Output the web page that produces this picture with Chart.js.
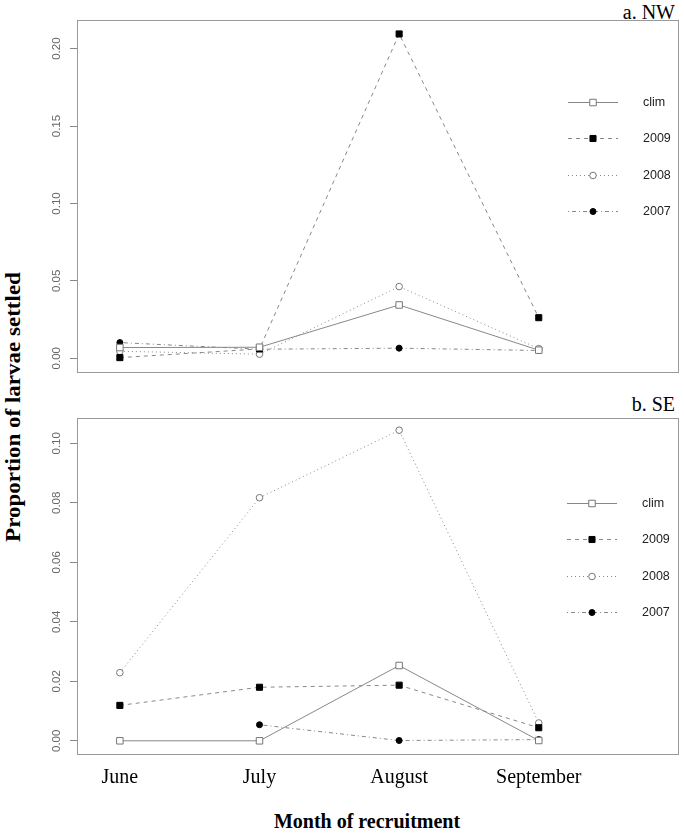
<!DOCTYPE html>
<html>
<head>
<meta charset="utf-8">
<script src="https://cdn.jsdelivr.net/npm/chart.js@4.4.1/dist/chart.umd.min.js"></script>
<style>
  body { margin: 0; background: #fff; width: 684px; height: 834px; position: relative; overflow: hidden; }
  canvas { position: absolute; left: 0; }
  #nw { top: 0; }
  #se { top: 390px; }
  .panel { position: absolute; right: 9px; font: 20px "Liberation Serif", serif; line-height: 20px; color: #000; }
  #ytitle { position: absolute; left: 13px; top: 407px; transform: translate(-50%, -50%) rotate(-90deg) scale(1.15, 1);
            font: bold 20px "Liberation Serif", serif; line-height: 20px; white-space: nowrap; color: #000; }
  #xtitle { position: absolute; left: 367px; top: 821px; transform: translate(-50%, -50%);
            font: bold 20px "Liberation Serif", serif; line-height: 20px; white-space: nowrap; color: #000; }
</style>
</head>
<body>
<div class="panel" style="top:2px">a. NW</div>
<div class="panel" style="top:394px">b. SE</div>
<div id="ytitle">Proportion of larvae settled</div>
<div id="xtitle">Month of recruitment</div>
<canvas id="nw" width="684" height="390"></canvas>
<canvas id="se" width="684" height="444"></canvas>
<script>
const months = ['June', 'July', 'August', 'September'];
const seriesNames = ['clim', '2009', '2008', '2007'];

// a. NW
const nwClim = [0.0069, 0.0071, 0.0344, 0.0052];
const nw2009 = [0.0004, 0.0060, 0.2095, 0.0262];
const nw2008 = [0.0045, 0.0026, 0.0463, 0.0062];
const nw2007 = [0.0101, 0.0058, 0.0065, 0.0050];
const nwTicks = [0, 0.05, 0.10, 0.15, 0.20];

// b. SE
const seClim = [0.0000, 0.0000, 0.0253, 0.0001];
const se2009 = [0.0119, 0.0180, 0.0187, 0.0044];
const se2008 = [0.0229, 0.0817, 0.1044, 0.0060];
const se2007 = [null, 0.0054, 0.0001, 0.0004];
const seTicks = [0, 0.02, 0.04, 0.06, 0.08, 0.10];

const styles = [
  { dash: [], shape: 'rect', r: 4.6, fill: '#fff', edge: '#777' },
  { dash: [4, 4], shape: 'rect', r: 4.3, fill: '#000', edge: '#000' },
  { dash: [1, 3], shape: 'circle', r: 3.3, fill: '#fff', edge: '#777' },
  { dash: [1, 3, 4, 3], shape: 'circle', r: 3, fill: '#000', edge: '#000' }
];

function makeDatasets(series) {
  return series.map((vals, k) => ({
    label: seriesNames[k],
    data: months.map((m, i) => ({ x: i + 1, y: vals[i] })),
    borderColor: '#888',
    borderWidth: 1,
    borderDash: styles[k].dash,
    pointStyle: styles[k].shape,
    pointRadius: styles[k].r,
    pointHoverRadius: styles[k].r,
    pointBackgroundColor: styles[k].fill,
    pointBorderColor: styles[k].edge,
    pointBorderWidth: 1,
    tension: 0,
    fill: false,
    spanGaps: false
  }));
}

// box round the plot area and the legend inside it
const boxLegend = {
  id: 'boxLegend',
  afterDraw(chart, args, opts) {
    const ctx = chart.ctx;
    const a = chart.chartArea;
    ctx.save();
    ctx.strokeStyle = '#999';
    ctx.lineWidth = 1;
    ctx.strokeRect(Math.round(a.left) + 0.5, Math.round(a.top) + 0.5,
                   Math.round(a.right - a.left), Math.round(a.bottom - a.top));
    chart.data.datasets.forEach((ds, k) => {
      const y = Math.round(opts.y + k * opts.gap) + 0.5;
      ctx.strokeStyle = ds.borderColor;
      ctx.setLineDash(ds.borderDash);
      ctx.beginPath();
      ctx.moveTo(opts.x, y);
      ctx.lineTo(opts.x + 50, y);
      ctx.stroke();
      ctx.setLineDash([]);
      ctx.fillStyle = ds.pointBackgroundColor;
      ctx.strokeStyle = ds.pointBorderColor;
      ctx.beginPath();
      const cx = opts.x + 25;
      if (ds.pointStyle === 'rect') {
        const s = ds.pointRadius * Math.SQRT1_2;
        ctx.rect(cx - s, y - s, 2 * s, 2 * s);
      } else {
        ctx.arc(cx, y, ds.pointRadius, 0, Math.PI * 2);
      }
      ctx.fill();
      ctx.stroke();
      ctx.fillStyle = '#222';
      ctx.font = '12.5px "Liberation Sans", Arial, sans-serif';
      ctx.textBaseline = 'middle';
      ctx.fillText(ds.label, opts.x + 75, y);
    });
    ctx.restore();
  }
};

function yAxis(min, max, ticks) {
  return {
    type: 'linear',
    min: min,
    max: max,
    afterBuildTicks: s => { s.ticks = ticks.map(v => ({ value: v })); },
    afterFit: s => { s.width = 77; },
    ticks: {
      autoSkip: false,
      minRotation: 90,
      maxRotation: 90,
      crossAlign: 'center',
      padding: 2,
      color: '#666',
      font: { family: '"Liberation Sans", Arial, sans-serif', size: 11.5 },
      callback: v => v.toFixed(2)
    },
    grid: { drawOnChartArea: false, drawTicks: true, tickLength: 7, color: '#888' },
    border: { display: false }
  };
}

const common = {
  responsive: false,
  animation: false,
  events: [],
  plugins: { legend: { display: false }, tooltip: { enabled: false } }
};

new Chart(document.getElementById('nw'), {
  type: 'line',
  data: { datasets: makeDatasets([nwClim, nw2009, nw2008, nw2007]) },
  options: {
    ...common,
    layout: { padding: { top: 20, bottom: 18.3, left: 0, right: 3 } },
    plugins: { ...common.plugins, boxLegend: { x: 568, y: 101.7, gap: 36.4 } },
    scales: {
      x: { type: 'linear', min: 0.693, max: 5.0, display: false },
      y: yAxis(-0.0087, 0.2185, nwTicks)
    }
  },
  plugins: [boxLegend]
});

new Chart(document.getElementById('se'), {
  type: 'line',
  data: { datasets: makeDatasets([seClim, se2009, se2008, se2007]) },
  options: {
    ...common,
    layout: { padding: { top: 27.7, bottom: 32.7, left: 0, right: 3 } },
    plugins: { ...common.plugins, boxLegend: { x: 567, y: 112.7, gap: 36.5 } },
    scales: {
      x: {
        type: 'linear',
        min: 0.693,
        max: 5.0,
        afterBuildTicks: s => { s.ticks = months.map((m, i) => ({ value: i + 1 })); },
        ticks: {
          autoSkip: false,
          maxRotation: 0,
          padding: 12,
          color: '#000',
          font: { family: '"Liberation Serif", serif', size: 20 },
          callback: v => months[v - 1]
        },
        grid: { display: false, drawTicks: false },
        border: { display: false }
      },
      y: yAxis(-0.0042, 0.1086, seTicks)
    }
  },
  plugins: [boxLegend]
});
</script>
</body>
</html>
